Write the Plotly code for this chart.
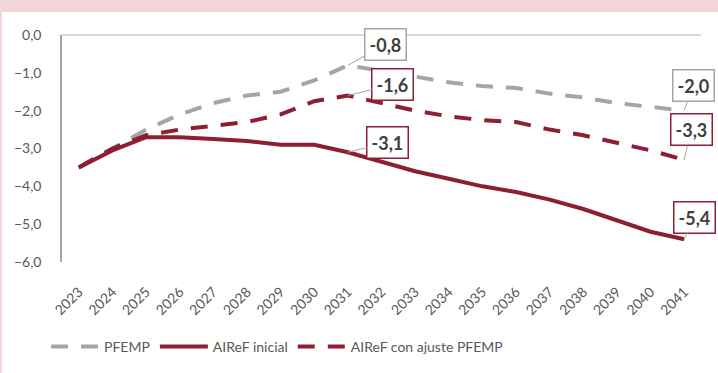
import plotly.graph_objects as go

years = [str(y) for y in range(2023, 2042)]
pfemp = [-3.5, -3.0, -2.5, -2.1, -1.8, -1.6, -1.5, -1.2, -0.8, -0.95, -1.1, -1.25,
         -1.35, -1.4, -1.55, -1.65, -1.8, -1.9, -2.0]
airef_inicial = [-3.5, -3.05, -2.7, -2.7, -2.75, -2.8, -2.9, -2.9, -3.1, -3.35, -3.6,
                 -3.8, -4.0, -4.15, -4.35, -4.6, -4.9, -5.2, -5.4]
airef_ajuste = [-3.5, -3.0, -2.65, -2.5, -2.4, -2.3, -2.1, -1.75, -1.6, -1.8, -2.0,
                -2.15, -2.25, -2.3, -2.5, -2.65, -2.85, -3.05, -3.3]
y_ticks = [0, -1, -2, -3, -4, -5, -6]

GRAY = "#a5a5a8"
RED = "#8c1f32"
TXT = "#595959"
FONT = "Lato"

fig = go.Figure()
fig.add_trace(go.Scatter(x=years, y=pfemp, name="PFEMP", mode="lines",
                         line=dict(color=GRAY, width=4, dash="17px,13px")))
fig.add_trace(go.Scatter(x=years, y=airef_inicial, name="AIReF inicial", mode="lines",
                         line=dict(color=RED, width=4)))
fig.add_trace(go.Scatter(x=years, y=airef_ajuste, name="AIReF con ajuste PFEMP", mode="lines",
                         line=dict(color=RED, width=4, dash="17px,13px")))

def fmt(v):
    return f"{v:.1f}".replace(".", ",")

labels = [
    (8, pfemp[8], GRAY, 38, -21),
    (8, airef_ajuste[8], RED, 45, -11),
    (8, airef_inicial[8], RED, 40, -10),
    (18, pfemp[18], GRAY, 9, -25),
    (18, airef_ajuste[18], RED, 7, -30),
    (18, airef_inicial[18], RED, 10, -22),
]
for idx, val, col, ax, ay in labels:
    fig.add_annotation(x=idx, y=val, xref="x", yref="y", text=f"<b>{fmt(val)}</b>",
                       showarrow=True, arrowhead=0, arrowwidth=1, arrowcolor="#a6a6a6",
                       ax=ax, ay=ay, bgcolor="white", bordercolor=col, borderwidth=1.5,
                       borderpad=4, font=dict(family=FONT, size=18, color="#404040"))

# decorative frame from the source layout (title band and left border)
fig.add_shape(type="rect", xref="paper", yref="paper", x0=-0.2, x1=1.2,
              y0=1 + 23 / 228, y1=1.3, fillcolor="#f2d4da", line_width=0, layer="below")
fig.add_shape(type="rect", xref="paper", yref="paper", x0=-0.2, x1=-62 / 639 + 2 / 639,
              y0=-1, y1=1.3, fillcolor="#f2d4da", line_width=0, layer="below")

fig.update_layout(
    width=718, height=373,
    margin=dict(l=62, r=17, t=35, b=110),
    paper_bgcolor="white", plot_bgcolor="white",
    separators=",.",
    font=dict(family=FONT, size=14, color=TXT),
    showlegend=True,
    legend=dict(orientation="h", x=-0.025, xanchor="left", y=-0.368, yanchor="middle",
                font=dict(family=FONT, size=14, color=TXT), itemwidth=48),
)
fig.update_xaxes(type="category", range=[-0.5, len(years) - 0.5], showgrid=False,
                 showline=False, zeroline=False,
                 tickangle=-45, ticklabelstandoff=18, tickfont=dict(size=14, color=TXT))
fig.update_yaxes(range=[-6, 0], tickvals=y_ticks, tickformat=".1f", showgrid=False,
                 showline=True, linecolor="#a6a6a6", linewidth=1.5,
                 zeroline=True, zerolinecolor="#d9d9d9", zerolinewidth=1.5,
                 ticklabelstandoff=16, tickfont=dict(size=14, color=TXT))

fig.write_html("out.html")
